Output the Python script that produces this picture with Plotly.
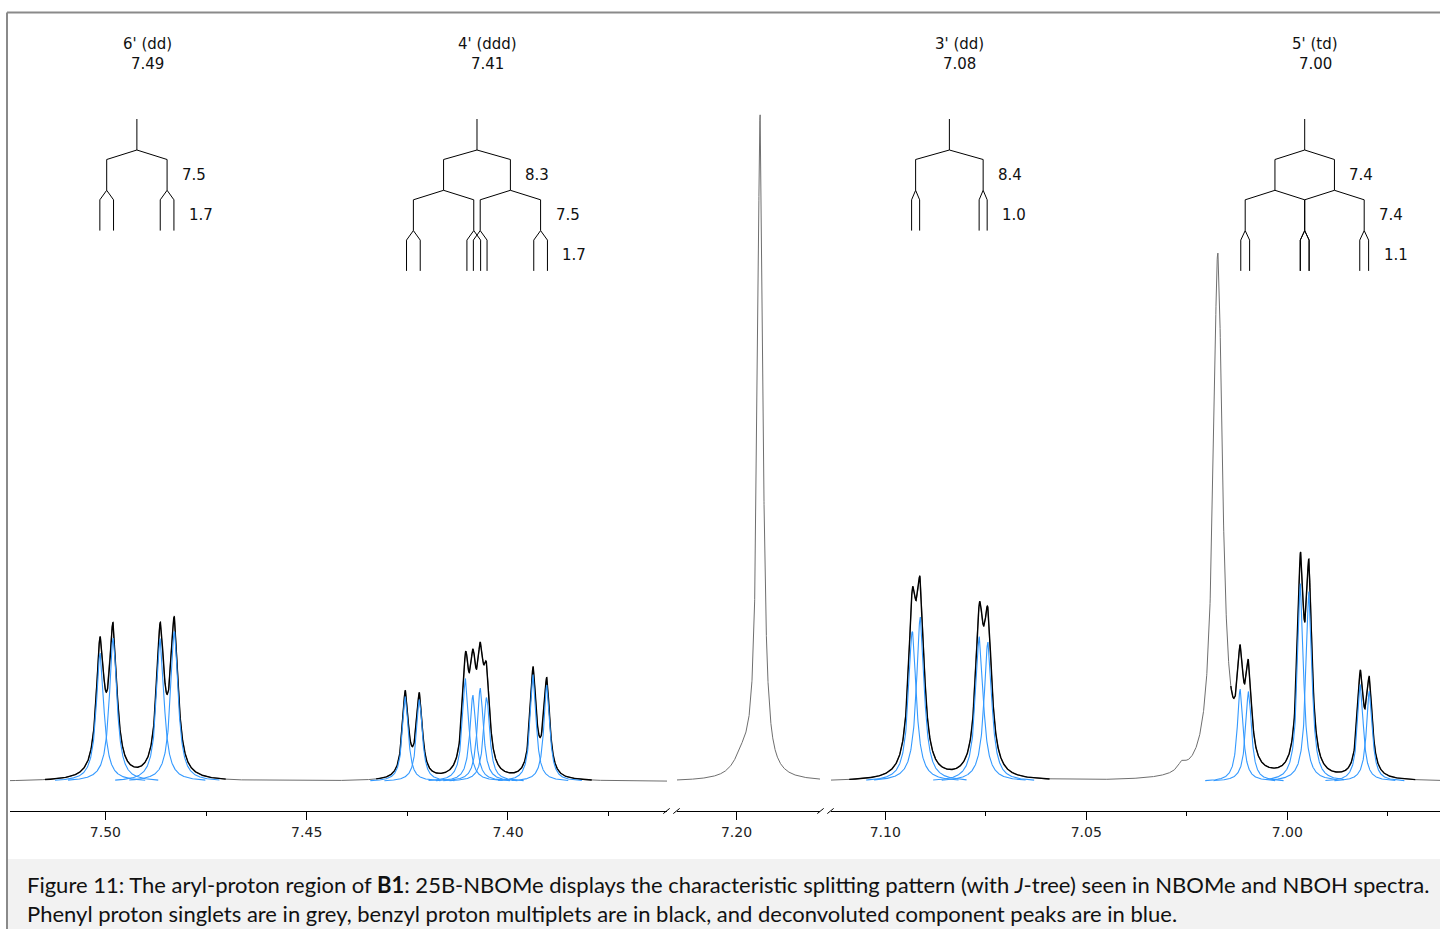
import numpy as np
import plotly.graph_objects as go

# ---------------- data (ppm, intensity, half-width in ppm) ----------------
MHZ = 500.0

# 6' (dd) components
h6_pos = [7.50132, 7.49808, 7.48637, 7.48288]
h6_ht = [128, 143, 143, 150]
h6_hw = [0.00112, 0.00112, 0.00112, 0.00112]

# 4' (ddd) components
h4_pos = [7.42549, 7.42200, 7.41054, 7.40870, 7.40688, 7.40531, 7.39374, 7.39036]
h4_ht = [85, 82, 103, 86, 93, 84, 107, 96]
h4_hw = [0.00087, 0.00087, 0.00092, 0.00092, 0.00092, 0.00092, 0.00087, 0.00087]

# 3' (dd) components
h3_pos = [7.09327, 7.09128, 7.07658, 7.07446]
h3_ht = [150, 164, 145, 139]
h3_hw = [0.00115, 0.00115, 0.00115, 0.00115]

# 5' (td) components
h5_pos = [7.01171, 7.00962, 6.99671, 6.99459, 6.98181, 6.97957]
h5_ht = [92, 90, 198, 190, 97, 90]
h5_hw = [0.00087, 0.00087, 0.00087, 0.00087, 0.00087, 0.00087]

# phenyl singlets (grey) incl. small shoulders
grey_pos = [7.19419, 7.1985, 7.01727, 7.0262]
grey_ht = [662, 18, 524, 8]
grey_hw = [0.0008, 0.0025, 0.00137, 0.0012]

# multiplet annotations / J-trees
tree_names = ["6' (dd)", "4' (ddd)", "3' (dd)", "5' (td)"]
tree_shift_labels = ["7.49", "7.41", "7.08", "7.00"]
tree_centers = [7.49218, 7.4077, 7.08405, 6.99566]
tree_J = [[7.5, 1.7], [8.3, 7.5, 1.7], [8.4, 1.0], [7.4, 7.4, 1.1]]
tree_axis = ["x", "x", "x3", "x3"]

# black (multiplet) windows in ppm
black_windows = [(7.5150, 7.4701), (7.43275, 7.37919), (7.10897, 7.05913), (7.01403, 6.96814)]

# axis segments (broken axis)
seg_ranges = [(7.5237, 7.3605), (7.2146, 7.1795), (7.1135, 6.9620)]
seg_major = [[7.50, 7.45, 7.40], [7.20], [7.10, 7.05, 7.00]]
seg_minor = [[7.475, 7.425, 7.375], [], [7.075, 7.025, 6.975]]

caption_1 = ("Figure 11: The aryl-proton region of <b>B1</b>: 25B-NBOMe displays the characteristic "
             "splitting pattern (with <i>J</i>-tree) seen in NBOMe and NBOH spectra.")
caption_2 = ("Phenyl proton singlets are in grey, benzyl proton multiplets are in black, "
             "and deconvoluted component peaks are in blue.")

# ---------------- layout constants (pixels) ----------------
W, H = 1440, 929
PLOT_TOP, AXIS_Y, BASE_Y = 12, 811, 781.5
seg_px = [(10, 667), (677, 820), (831, 1440)]
axes_names = ["x", "x2", "x3"]

def lor(x, c, h, w):
    return h / (1.0 + ((x - c) / w) ** 2)

all_pos = h6_pos + h4_pos + h3_pos + h5_pos + grey_pos
all_ht = h6_ht + h4_ht + h3_ht + h5_ht + grey_ht
all_hw = h6_hw + h4_hw + h3_hw + h5_hw + grey_hw
blue_pos = h6_pos + h4_pos + h3_pos + h5_pos
blue_ht = h6_ht + h4_ht + h3_ht + h5_ht
blue_hw = h6_hw + h4_hw + h3_hw + h5_hw

def spectrum(x):
    y = np.zeros_like(x)
    for c, h, w in zip(all_pos, all_ht, all_hw):
        y += lor(x, c, h, w)
    return y

fig = go.Figure()
GREY = "#6f6f6f"
BLUE = "#3399ff"

for i, (lo_hi, ax) in enumerate(zip(seg_ranges, axes_names)):
    hi, lo = lo_hi
    x = np.linspace(lo, hi, 4000)
    y = spectrum(x)
    fig.add_trace(go.Scatter(x=x, y=y, mode="lines", line=dict(color=GREY, width=1),
                             xaxis=ax, yaxis="y", hoverinfo="skip", showlegend=False))
    for (bh, bl) in black_windows:
        if bl >= lo and bh <= hi:
            xb = np.linspace(bl, bh, 2000)
            fig.add_trace(go.Scatter(x=xb, y=spectrum(xb), mode="lines",
                                     line=dict(color="black", width=1.4),
                                     xaxis=ax, yaxis="y", hoverinfo="skip", showlegend=False))
    for c, h, w in zip(blue_pos, blue_ht, blue_hw):
        if lo <= c <= hi:
            xc = np.linspace(c - 10 * w, c + 10 * w, 400)
            fig.add_trace(go.Scatter(x=xc, y=lor(xc, c, h, w), mode="lines",
                                     line=dict(color=BLUE, width=1.1),
                                     xaxis=ax, yaxis="y", hoverinfo="skip", showlegend=False))

# ---------------- J-trees ----------------
STEM_TOP, LEVEL0, STEP, SLANT = 119, 150, 40.3, 9.5
def v(ypx):
    return BASE_Y - ypx

LABEL_FONT = dict(family="DejaVu Sans", size=15, color="#111")
annotations = []
for name, lab, c, Js, ax in zip(tree_names, tree_shift_labels, tree_centers, tree_J, tree_axis):
    xs, ys = [c, c, None], [v(STEM_TOP), v(LEVEL0), None]
    legs = [c]
    for k, J in enumerate(Js):
        y0 = LEVEL0 + k * STEP
        d = J / MHZ / 2.0
        new = []
        for p in legs:
            for s in (-1, 1):
                xs += [p, p + s * d, p + s * d, None]
                ys += [v(y0), v(y0 + SLANT), v(y0 + STEP), None]
                new.append(p + s * d)
        legs = new
        # axis is reversed: the right-most leg has the smallest ppm
        annotations.append(dict(x=min(legs), y=v(y0 + SLANT + (STEP - SLANT) / 2), xref=ax, yref="y",
                                text=f"{J:.1f}", showarrow=False, xanchor="left", yanchor="middle",
                                xshift=13, font=LABEL_FONT))
    fig.add_trace(go.Scatter(x=xs, y=ys, mode="lines", line=dict(color="black", width=1),
                             xaxis=ax, yaxis="y", hoverinfo="skip", showlegend=False))
    annotations.append(dict(x=c, y=v(44), xref=ax, yref="y", text=name, showarrow=False,
                            xshift=10.5, yanchor="middle", font=LABEL_FONT))
    annotations.append(dict(x=c, y=v(64), xref=ax, yref="y", text=lab, showarrow=False,
                            xshift=10.5, yanchor="middle", font=LABEL_FONT))

# captions
CAP_FONT = dict(family="Lato", size=22, color="#111")
annotations.append(dict(x=25 / W, y=1 - 884 / H, xref="paper", yref="paper", text=caption_1,
                        showarrow=False, xanchor="left", yanchor="middle", font=CAP_FONT))
annotations.append(dict(x=25 / W, y=1 - 913 / H, xref="paper", yref="paper", text=caption_2,
                        showarrow=False, xanchor="left", yanchor="middle", font=CAP_FONT))

# ---------------- shapes ----------------
shapes = [
    dict(type="rect", xref="paper", yref="paper", x0=8 / W, x1=1.01, y0=-0.01, y1=1 - 859 / H,
         fillcolor="#f2f2f2", line=dict(width=0), layer="below"),
    dict(type="line", xref="paper", yref="paper", x0=7 / W, x1=1.01, y0=1 - 12.5 / H, y1=1 - 12.5 / H,
         line=dict(color="#8a8a8a", width=2)),
    dict(type="line", xref="paper", yref="paper", x0=7 / W, x1=7 / W, y0=-0.01, y1=1 - 12.5 / H,
         line=dict(color="#8a8a8a", width=2)),
]
# break marks
for xb in [666.5, 676.5, 820.5, 830.5]:
    shapes.append(dict(type="line", xref="paper", yref="paper",
                       x0=(xb - 3.2) / W, x1=(xb + 3.2) / W,
                       y0=1 - (AXIS_Y + 2.6) / H, y1=1 - (AXIS_Y - 2.6) / H,
                       line=dict(color="black", width=1)))

layout = dict(
    width=W, height=H, margin=dict(l=0, r=0, t=0, b=0),
    paper_bgcolor="white", plot_bgcolor="rgba(0,0,0,0)",
    showlegend=False, annotations=annotations, shapes=shapes,
    yaxis=dict(domain=[1 - AXIS_Y / H, 1 - PLOT_TOP / H],
               range=[BASE_Y - AXIS_Y, BASE_Y - PLOT_TOP], visible=False, fixedrange=True),
)
for i, ax in enumerate(axes_names):
    key = "xaxis" if i == 0 else f"xaxis{i + 1}"
    px0, px1 = seg_px[i]
    layout[key] = dict(
        domain=[px0 / W, min(px1 / W, 1.0)], range=list(seg_ranges[i]), anchor="y",
        showline=True, linecolor="black", linewidth=1, showgrid=False, zeroline=False,
        ticks="outside", ticklen=8, tickwidth=1, tickcolor="black",
        tickmode="array", tickvals=seg_major[i], ticktext=[f"{t:.2f}" for t in seg_major[i]],
        tickfont=dict(family="DejaVu Sans", size=14, color="#222"),
        minor=dict(tickmode="array", tickvals=seg_minor[i], ticklen=4, ticks="outside",
                   tickcolor="black", tickwidth=1, showgrid=False),
        fixedrange=True,
    )
fig.update_layout(**layout)
fig.write_html("out.html")
